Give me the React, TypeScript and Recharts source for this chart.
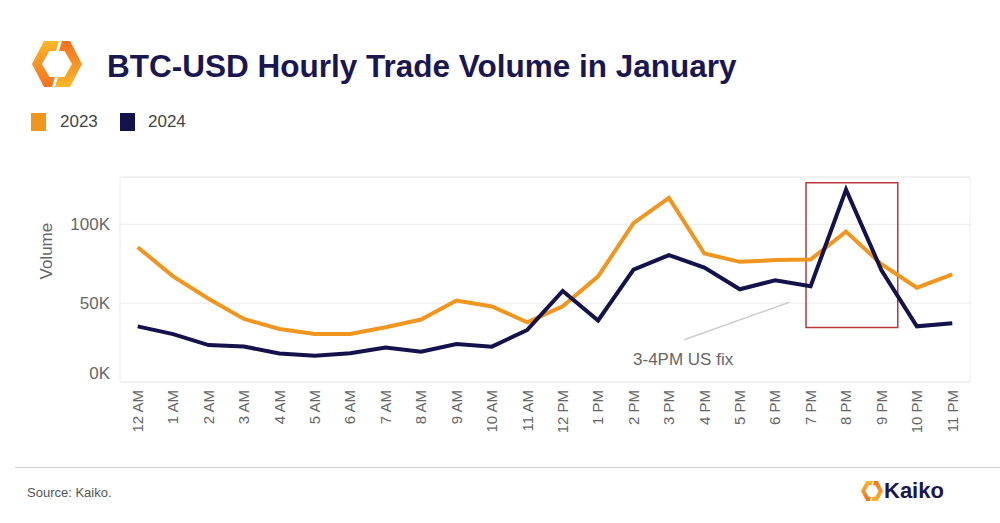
import {
  LineChart,
  Line,
  XAxis,
  YAxis,
  CartesianGrid,
  ReferenceArea,
  ReferenceLine,
  ReferenceDot,
} from "recharts";

const hours = [
  "12 AM", "1 AM", "2 AM", "3 AM", "4 AM", "5 AM", "6 AM", "7 AM", "8 AM", "9 AM", "10 AM", "11 AM",
  "12 PM", "1 PM", "2 PM", "3 PM", "4 PM", "5 PM", "6 PM", "7 PM", "8 PM", "9 PM", "10 PM", "11 PM",
];

const vol2023 = [
  85500, 67000, 52800, 40000, 33600, 30400, 30400, 34700, 39600, 51700, 47900, 37900,
  48000, 67000, 100700, 116700, 81500, 76200, 77300, 77700, 95400, 74700, 59800, 68300,
];

const vol2024 = [
  35300, 30400, 23400, 22500, 18100, 16600, 18300, 21900, 19200, 24100, 22400, 33000,
  57700, 39000, 71300, 80500, 72600, 58800, 64500, 60700, 122000, 70900, 35300, 37200,
];

const yTicks = [0, 50000, 100000];

// annotation positions, in data units (x = hour index)
const highlightBox = { x1: 18.87, x2: 21.46, y1: 34500, y2: 126400 };
const fixPointer = [
  { x: 18.4, y: 50600 },
  { x: 15.43, y: 26800 },
];
const fixLabel = { x: 15.4, y: 14700, text: "3-4PM US fix" };

const ORANGE = "#f0961f";
const NAVY = "#15124b";
const FONT = "'Liberation Sans', Arial, sans-serif";

const data = hours.map((h, i) => ({ i, hour: h, y2023: vol2023[i], y2024: vol2024[i] }));

function Logo({ x, y, size, id }: { x: number; y: number; size: number; id: string }) {
  const piece = "54,4 24,4 0,50 24,96 40,96 46,76 35,76 20,50 35,24 48,24";
  return (
    <svg
      width={size}
      height={size}
      viewBox="0 0 100 100"
      style={{ position: "absolute", left: x, top: y }}
    >
      <defs>
        <linearGradient id={id} x1="0" y1="0" x2="0" y2="1">
          <stop offset="0%" stopColor="#fbb829" />
          <stop offset="100%" stopColor="#f37021" />
        </linearGradient>
      </defs>
      <polygon points={piece} fill={`url(#${id})`} />
      <polygon points={piece} fill={`url(#${id})`} transform="rotate(180 50 50)" />
    </svg>
  );
}

function XTick({ x, y, payload }: any) {
  return (
    <text
      x={x}
      y={y}
      dy="0.35em"
      textAnchor="end"
      transform={`rotate(-90, ${x}, ${y})`}
      fill="#666"
      fontSize={15}
      fontFamily={FONT}
    >
      {hours[payload.value]}
    </text>
  );
}

function YTick({ x, y, payload }: any) {
  return (
    <text
      x={x}
      y={payload.value === 0 ? y - 9 : y}
      dy="0.35em"
      textAnchor="end"
      fill="#666"
      fontSize={17}
      fontFamily={FONT}
    >
      {`${payload.value / 1000}K`}
    </text>
  );
}

export default function App() {
  return (
    <div
      style={{
        position: "absolute",
        left: 0,
        top: 0,
        width: 1000,
        height: 523,
        background: "#fff",
        fontFamily: FONT,
        overflow: "hidden",
      }}
    >
      <Logo x={32} y={39} size={50} id="logoGrad" />
      <div
        style={{
          position: "absolute",
          left: 107,
          top: 48,
          fontSize: 31.5,
          fontWeight: "bold",
          color: "#1b1650",
          whiteSpace: "nowrap",
        }}
      >
        BTC-USD Hourly Trade Volume in January
      </div>

      <div style={{ position: "absolute", left: 31, top: 113, width: 15, height: 18, background: ORANGE }} />
      <div style={{ position: "absolute", left: 60, top: 112, fontSize: 17, color: "#444" }}>2023</div>
      <div style={{ position: "absolute", left: 120, top: 113, width: 15, height: 18, background: NAVY }} />
      <div style={{ position: "absolute", left: 148, top: 112, fontSize: 17, color: "#444" }}>2024</div>

      <div style={{ position: "absolute", left: 0, top: 160 }}>
        <LineChart width={1000} height={300} data={data} margin={{ top: 17, right: 30, left: 0, bottom: 0 }}>
          <CartesianGrid vertical={false} stroke="#ebebeb" />
          <ReferenceArea x1={-0.5} x2={23.5} y1={0} y2={130000} fill="none" stroke="#eeeeee" />
          <XAxis
            type="number"
            dataKey="i"
            domain={[-0.5, 23.5]}
            ticks={hours.map((_, i) => i)}
            interval={0}
            tick={<XTick />}
            tickLine={false}
            axisLine={false}
            height={78}
          />
          <YAxis
            domain={[0, 130000]}
            ticks={yTicks}
            tick={<YTick />}
            tickLine={false}
            axisLine={false}
            tickMargin={4}
            width={120}
            label={{
              value: "Volume",
              angle: -90,
              position: "insideLeft",
              offset: 46,
              fill: "#666",
              fontSize: 17,
              fontFamily: FONT,
            }}
          />
          <Line
            type="linear"
            dataKey="y2023"
            stroke={ORANGE}
            strokeWidth={4}
            dot={false}
            isAnimationActive={false}
          />
          <Line
            type="linear"
            dataKey="y2024"
            stroke={NAVY}
            strokeWidth={4}
            dot={false}
            isAnimationActive={false}
          />
          <ReferenceArea
            x1={highlightBox.x1}
            x2={highlightBox.x2}
            y1={highlightBox.y1}
            y2={highlightBox.y2}
            fill="none"
            stroke="#b8393d"
            strokeWidth={1.5}
          />
          <ReferenceLine segment={fixPointer} stroke="#cccccc" strokeWidth={1.5} />
          <ReferenceDot
            x={fixLabel.x}
            y={fixLabel.y}
            r={0}
            fill="none"
            stroke="none"
            label={{ value: fixLabel.text, position: "center", fill: "#666", fontSize: 17, fontFamily: FONT }}
          />
        </LineChart>
      </div>

      <div style={{ position: "absolute", left: 15, right: 0, top: 467, height: 1, background: "#cfcfcf" }} />
      <div style={{ position: "absolute", left: 27, top: 485, fontSize: 13, color: "#555" }}>Source: Kaiko.</div>
      <Logo x={861} y={480} size={22} id="logoGradSmall" />
      <div
        style={{
          position: "absolute",
          left: 884,
          top: 478,
          fontSize: 22,
          fontWeight: "bold",
          color: "#1b1650",
        }}
      >
        Kaiko
      </div>
    </div>
  );
}
